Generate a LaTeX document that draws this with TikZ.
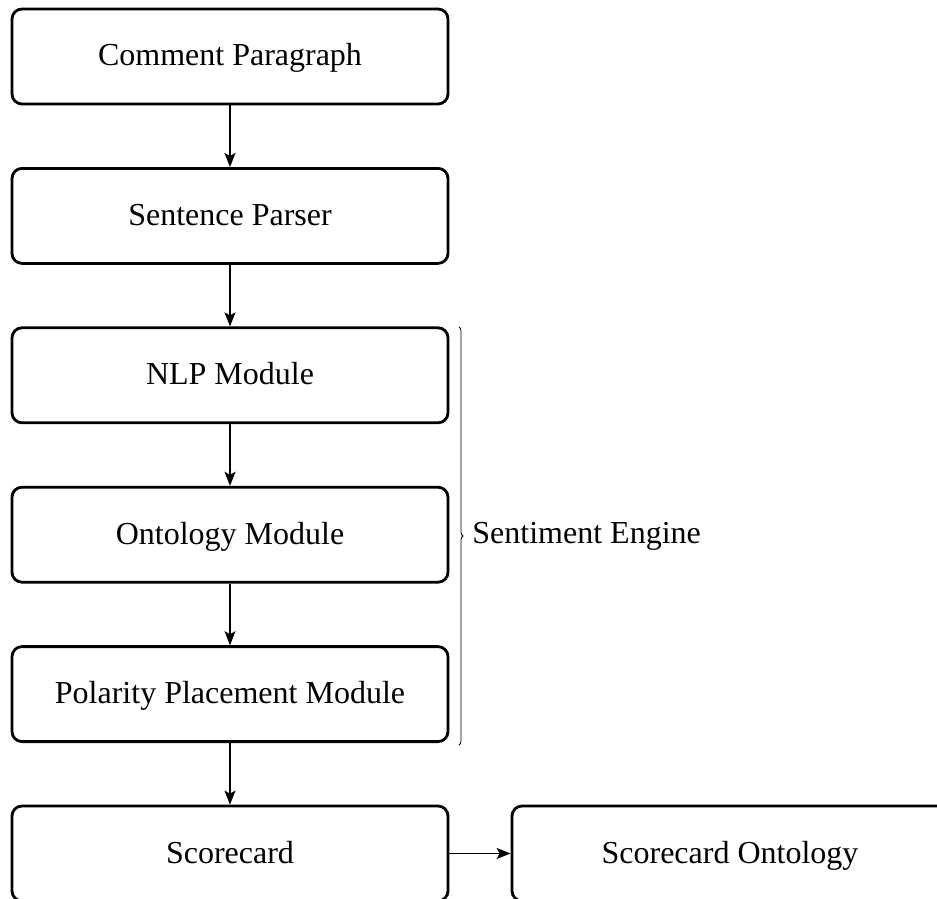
\documentclass[tikz,border=0pt]{standalone}
\usepackage{fontspec}
\setmainfont{Liberation Serif}
\usetikzlibrary{arrows.meta,decorations.pathreplacing}

\tikzset{
  stage/.style={draw=black, line width=1.4pt, rounded corners=5pt,
    minimum width=218pt, minimum height=47.5pt, inner sep=0pt,
    text height=13pt, text depth=3.5pt,
    align=center, font=\fontsize{16}{19}\selectfont},
  flow/.style={line width=0.75pt, -{Stealth[length=7pt,width=5.5pt,inset=1.5pt]}},
}

\begin{document}
\begin{tikzpicture}[x=0.5pt, y=-0.5pt]
  \useasboundingbox (0,0) rectangle (937,899);
  \clip (0,0) rectangle (937,899);

  % processing chain
  \node[stage] (cp)  at (230,56.5)  {Comment Paragraph};
  \node[stage] (sp)  at (230,215.9) {Sentence Parser};
  \node[stage] (nlp) at (230,375.3) {NLP Module};
  \node[stage] (ont) at (230,534.7) {Ontology Module};
  \node[stage] (ppm) at (230,694.1) {Polarity Placement Module};
  \node[stage] (sc)  at (230,853.5) {Scorecard};
  \node[stage] (sco) at (730,853.5) {Scorecard Ontology};

  \draw[flow] (cp)  -- (sp);
  \draw[flow] (sp)  -- (nlp);
  \draw[flow] (nlp) -- (ont);
  \draw[flow] (ont) -- (ppm);
  \draw[flow] (ppm) -- (sc);
  \draw[flow] (sc)  -- (sco);

  % grouping brace for the engine modules
  \coordinate (bt) at (459,327);
  \coordinate (bb) at (459,745);
  \draw[line width=0.4pt, decorate, decoration={brace, amplitude=2pt}] (bt) -- (bb)
    node[midway, right=6.5pt, font=\fontsize{16}{19}\selectfont, inner sep=0pt] (eng) {Sentiment Engine};
\end{tikzpicture}
\end{document}
